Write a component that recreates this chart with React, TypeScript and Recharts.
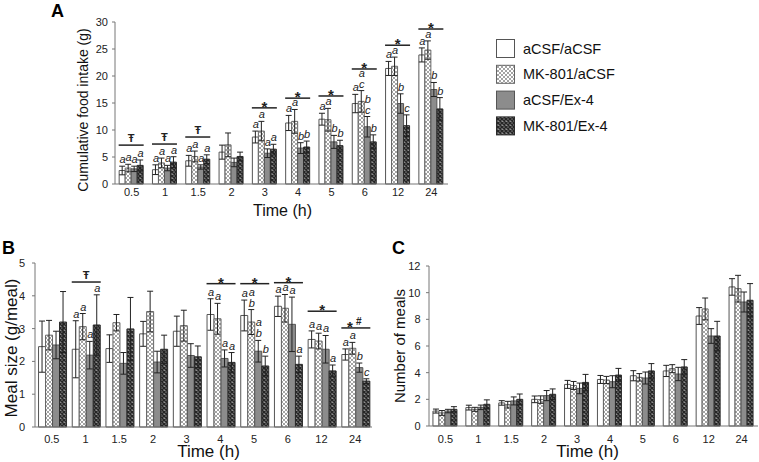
import React from 'react';
import { BarChart, Bar, XAxis, YAxis, ErrorBar, LabelList } from 'recharts';

const times = ['0.5', '1', '1.5', '2', '3', '4', '5', '6', '12', '24'];
const groups = ['aCSF/aCSF', 'MK-801/aCSF', 'aCSF/Ex-4', 'MK-801/Ex-4'];

// A: cumulative food intake (g), one row per group
const intakeMean = [
  [2.5, 2.65, 4.3, 5.9, 8.7, 11.3, 12.0, 14.9, 21.4, 23.9],
  [2.95, 3.9, 5.1, 7.25, 9.8, 11.6, 11.9, 15.3, 21.8, 24.8],
  [2.8, 2.95, 3.15, 4.0, 5.7, 6.65, 7.8, 10.6, 14.9, 17.5],
  [3.45, 4.05, 4.6, 5.1, 6.45, 6.85, 7.1, 7.8, 10.8, 13.9],
];
const intakeErr = [
  [0.8, 0.9, 1.0, 1.3, 1.1, 1.4, 1.1, 1.7, 1.3, 1.3],
  [0.7, 0.9, 1.0, 2.2, 1.8, 2.2, 2.1, 2.0, 1.7, 1.7],
  [0.5, 0.5, 0.4, 0.8, 0.8, 1.0, 1.2, 1.9, 1.8, 1.3],
  [1.0, 1.0, 0.8, 0.8, 0.9, 1.1, 1.0, 1.3, 2.0, 2.1],
];
const intakeLetters = [
  ['a', 'a', 'a', '', 'a', 'a', 'a', 'a', 'a', 'a'],
  ['a', 'a', 'a', '', 'a', 'a', 'a', 'a c', 'a', 'a'],
  ['a', 'a', 'a', '', 'a', 'b', 'b', 'b c', 'b', 'b'],
  ['a', 'a', 'a', '', 'a', 'b', 'b', 'b', 'c', 'b'],
];
const intakeSig = [7.2, 7.4, 8.7, null, 14.1, 15.9, 16.3, 21.3, 25.7, 28.7];
const intakeMarks = ['Ŧ', 'Ŧ', 'Ŧ', '', '*', '*', '*', '*', '*', '*'];

// B: meal size (g/meal)
const mealSizeMean = [
  [2.45, 2.37, 2.39, 2.84, 2.92, 3.43, 3.4, 3.68, 2.67, 2.21],
  [2.8, 3.06, 3.18, 3.52, 3.09, 3.3, 3.2, 3.62, 2.62, 2.4],
  [2.5, 2.19, 1.94, 1.98, 2.18, 2.09, 2.31, 3.13, 2.37, 1.81],
  [3.2, 3.11, 2.99, 2.37, 2.14, 1.97, 1.86, 1.91, 1.71, 1.4],
];
const mealSizeErr = [
  [0.78, 0.87, 0.42, 0.38, 0.46, 0.48, 0.47, 0.31, 0.26, 0.17],
  [0.45, 0.4, 0.25, 0.62, 0.47, 0.47, 0.38, 0.42, 0.24, 0.18],
  [0.42, 0.42, 0.33, 0.33, 0.36, 0.26, 0.33, 0.83, 0.42, 0.14],
  [0.93, 0.92, 0.96, 0.43, 0.33, 0.3, 0.3, 0.25, 0.18, 0.07],
];
const mealSizeLetters = [
  ['', 'a', '', '', '', 'a', 'a', 'a', 'a', 'a'],
  ['', 'a', '', '', '', 'a', 'a b', 'a', 'a', 'a'],
  ['', 'a', '', '', '', 'a', 'a b', 'a', 'a', 'b'],
  ['', 'a', '', '', '', 'a', 'b', 'a', 'a', 'c'],
];
const mealSizeSig = [null, 4.42, null, null, null, 4.37, 4.37, 4.4, 3.53, 3.02];
const mealSizeMarks = ['', 'Ŧ', '', '', '', '*', '*', '*', '*', '*#'];

// C: number of meals
const mealCountMean = [
  [1.12, 1.38, 1.73, 2.0, 3.12, 3.49, 3.77, 4.13, 8.25, 10.43],
  [0.98, 1.25, 1.6, 1.98, 3.04, 3.45, 3.65, 4.3, 8.78, 10.3],
  [1.12, 1.4, 1.88, 2.28, 2.82, 3.32, 3.6, 3.9, 6.75, 9.3],
  [1.25, 1.63, 2.0, 2.38, 3.27, 3.82, 4.13, 4.43, 6.75, 9.43],
];
const mealCountErr = [
  [0.15, 0.18, 0.17, 0.25, 0.3, 0.3, 0.38, 0.42, 0.63, 0.62],
  [0.18, 0.15, 0.25, 0.28, 0.3, 0.27, 0.28, 0.3, 0.82, 1.0],
  [0.13, 0.17, 0.3, 0.38, 0.4, 0.45, 0.45, 0.5, 0.55, 0.75],
  [0.2, 0.33, 0.4, 0.4, 0.6, 0.5, 0.55, 0.55, 1.1, 1.25],
];

const FONT = '"Liberation Sans", Arial, Helvetica, sans-serif';
const fills = ['#ffffff', 'url(#hatchLight)', '#8c8c8c', 'url(#hatchDark)'];
const strokes = ['#555', '#666', '#555', '#2a2a2a'];
const tickStyle = { fontSize: 11, fill: '#222', fontFamily: FONT };

// letters sit above the error bar; the px-per-unit comes from the bar itself
const letterContent = (means: number[], errs: number[], letters: string[]) => (p: any) => {
  const i = Number(p.value);
  const txt = letters[i];
  if (!txt) return null;
  const vb = p.viewBox ?? p;
  const h = Math.abs(vb.height);
  const top = Math.min(vb.y, vb.y + vb.height);
  const ppu = h / means[i];
  const errTop = top - errs[i] * ppu;
  const parts = txt.split(' ');
  const cx = vb.x + vb.width / 2 + 0.5;
  return (
    <g>
      {parts.map((s, k) => (
        <text key={k} x={cx} y={errTop - 3 - (parts.length - 1 - k) * 11} textAnchor="middle"
          fontSize={11} fontStyle="italic" fill="#222" fontFamily={FONT}>{s}</text>
      ))}
    </g>
  );
};

const sigContent = (means: number[], sig: (number | null)[], marks: string[]) => (p: any) => {
  const i = Number(p.value);
  const lv = sig[i];
  if (lv == null) return null;
  const vb = p.viewBox ?? p;
  const h = Math.abs(vb.height);
  const top = Math.min(vb.y, vb.y + vb.height);
  const ppu = h / means[i];
  const ly = top + h - lv * ppu;
  const x1 = vb.x - 0.5;
  const x2 = vb.x + vb.width * 4 + 0.5;
  const cx = (x1 + x2) / 2;
  const m = marks[i];
  return (
    <g fontFamily={FONT} fontWeight="bold" fill="#222">
      <line x1={x1} x2={x2} y1={ly} y2={ly} stroke="#222" strokeWidth={1.5} />
      {m === 'Ŧ' && <text x={cx} y={ly - 3} textAnchor="middle" fontSize={11}>Ŧ</text>}
      {m === '*' && <text x={cx} y={ly + 4} textAnchor="middle" fontSize={15}>*</text>}
      {m === '*#' && (
        <>
          <text x={cx - 6} y={ly + 4} textAnchor="middle" fontSize={15}>*</text>
          <text x={cx + 3} y={ly - 3} textAnchor="middle" fontSize={10}>#</text>
        </>
      )}
    </g>
  );
};

type PanelProps = {
  left: number; top: number; width: number; height: number;
  margin: { top: number; right: number; bottom: number; left: number };
  yWidth: number; gap: string;
  means: number[][]; errs: number[][];
  letters?: string[][]; sig?: (number | null)[]; marks?: string[];
  yMax: number; yTicks: number[]; yTickMargin: number; xTickMargin: number;
  yTitle: string; yTitleX: number; yTitleDy: number; yTitleSize: number;
  xTitleDx: number; xTitleDy: number; xTitleSize: number;
};

function Panel(props: PanelProps) {
  const { means, errs, letters, sig, marks } = props;
  const rows = times.map((t, i) => {
    const r: any = { time: t, idx: i };
    means.forEach((s, k) => {
      r['m' + k] = s[i];
      r['e' + k] = errs[k][i];
    });
    return r;
  });
  return (
    <div style={{ position: 'absolute', left: props.left, top: props.top }}>
      <BarChart width={props.width} height={props.height} data={rows} margin={props.margin}
        barCategoryGap={props.gap} barGap={0}>
        <XAxis dataKey="time" height={20} tickLine={false} tickSize={0} tickMargin={props.xTickMargin}
          axisLine={{ stroke: '#777' }} tick={tickStyle} interval={0}
          label={{
            content: (p: any) => {
              const vb = p.viewBox;
              return (
                <text x={vb.x + vb.width / 2 + props.xTitleDx} y={vb.y + props.xTitleDy} textAnchor="middle"
                  fontSize={props.xTitleSize} fill="#111" fontFamily={FONT}>Time (h)</text>
              );
            },
          }} />
        <YAxis width={props.yWidth} domain={[0, props.yMax]} ticks={props.yTicks} interval={0}
          tickSize={3} tickMargin={props.yTickMargin} axisLine={{ stroke: '#777' }}
          tickLine={{ stroke: '#777' }} tick={tickStyle}
          label={{
            content: (p: any) => {
              const vb = p.viewBox;
              const cy = vb.y + vb.height / 2 + props.yTitleDy;
              return (
                <text transform={`translate(${props.yTitleX},${cy}) rotate(-90)`} textAnchor="middle"
                  dominantBaseline="central" fontSize={props.yTitleSize} fill="#111" fontFamily={FONT}>
                  {props.yTitle}
                </text>
              );
            },
          }} />
        {groups.map((g, k) => (
          <Bar key={g} dataKey={'m' + k} name={g} fill={fills[k]} stroke={strokes[k]} strokeWidth={1}
            isAnimationActive={false}>
            <ErrorBar dataKey={'e' + k} width={3} stroke="#222" strokeWidth={1} direction="y"
              isAnimationActive={false} />
            {letters && (
              <LabelList dataKey="idx" content={letterContent(means[k], errs[k], letters[k])} />
            )}
            {k === 0 && sig && marks && (
              <LabelList dataKey="idx" content={sigContent(means[0], sig, marks)} />
            )}
          </Bar>
        ))}
      </BarChart>
    </div>
  );
}

function Legend4() {
  return (
    <svg width={150} height={110} style={{ position: 'absolute', left: 490, top: 35 }}>
      {groups.map((g, k) => (
        <g key={g}>
          <rect x={6.5} y={4.5 + k * 25.8} width={18} height={18} fill={fills[k]} stroke={strokes[k]} strokeWidth={1} />
          <text x={33} y={13.5 + k * 25.8} dominantBaseline="central" fontSize={14.5} fill="#111"
            fontFamily={FONT}>{g}</text>
        </g>
      ))}
    </svg>
  );
}

const letterStyle: React.CSSProperties = {
  position: 'absolute', fontFamily: FONT, fontWeight: 'bold', fontSize: 18, lineHeight: '18px', color: '#000',
};

export default function App() {
  return (
    <div style={{ position: 'absolute', left: 0, top: 0, width: 759, height: 462, background: '#fff', overflow: 'hidden' }}>
      <svg width={0} height={0} style={{ position: 'absolute' }}>
        <defs>
          <pattern id="hatchLight" width={4} height={4} patternUnits="userSpaceOnUse">
            <rect width={4} height={4} fill="#ffffff" />
            <path d="M0,0 L4,4 M4,0 L0,4" stroke="#9a9a9a" strokeWidth={0.9} />
          </pattern>
          <pattern id="hatchDark" width={4} height={4} patternUnits="userSpaceOnUse">
            <rect width={4} height={4} fill="#8e8e8e" />
            <path d="M0,0 L4,4 M4,0 L0,4" stroke="#262626" strokeWidth={1.5} />
          </pattern>
        </defs>
      </svg>

      <Panel left={0} top={0} width={470} height={222}
        margin={{ top: 22, right: 22, bottom: 18, left: 75 }} yWidth={40} gap="12.5%"
        means={intakeMean} errs={intakeErr} letters={intakeLetters} sig={intakeSig} marks={intakeMarks}
        yMax={30} yTicks={[0, 5, 10, 15, 20, 25, 30]} yTickMargin={4} xTickMargin={4}
        yTitle="Cumulative food intake (g)" yTitleX={83} yTitleDy={7} yTitleSize={14}
        xTitleDx={1} xTitleDy={31.5} xTitleSize={16} />

      <Panel left={0} top={220} width={390} height={242}
        margin={{ top: 43, right: 18, bottom: 15, left: 13 }} yWidth={22} gap="10.5%"
        means={mealSizeMean} errs={mealSizeErr} letters={mealSizeLetters} sig={mealSizeSig} marks={mealSizeMarks}
        yMax={5} yTicks={[0, 1, 2, 3, 4, 5]} yTickMargin={7} xTickMargin={8}
        yTitle="Meal size (g/meal)" yTitleX={11} yTitleDy={3} yTitleSize={17}
        xTitleDx={5} xTitleDy={29.5} xTitleSize={17} />

      <Panel left={380} top={220} width={379} height={242}
        margin={{ top: 46, right: 1, bottom: 16, left: 19 }} yWidth={30} gap="12%"
        means={mealCountMean} errs={mealCountErr}
        yMax={12} yTicks={[0, 2, 4, 6, 8, 10, 12]} yTickMargin={5.5} xTickMargin={9}
        yTitle="Number of meals" yTitleX={19} yTitleDy={0} yTitleSize={15}
        xTitleDx={-6} xTitleDy={30.5} xTitleSize={17} />

      <Legend4 />

      <div style={{ ...letterStyle, left: 51, top: 2 }}>A</div>
      <div style={{ ...letterStyle, left: 2, top: 239 }}>B</div>
      <div style={{ ...letterStyle, left: 392, top: 239 }}>C</div>
    </div>
  );
}
